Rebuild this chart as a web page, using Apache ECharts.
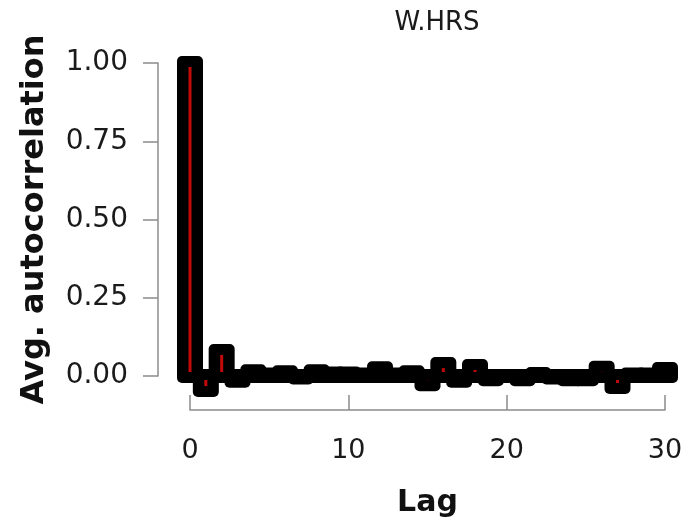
<!DOCTYPE html>
<html>
<head>
<meta charset="utf-8">
<title>W.HRS</title>
<script src="https://cdn.jsdelivr.net/npm/echarts@6/dist/echarts.min.js"></script>
<style>
  html, body { margin: 0; padding: 0; background: #fff; }
  #chart { width: 693px; height: 529px; }
</style>
</head>
<body>
<div id="chart"></div>
<script>
// lag values and average autocorrelation
const lags = [0, 1, 2, 3, 4, 5, 6, 7, 8, 9, 10, 11, 12, 13, 14, 15, 16, 17, 18, 19, 20, 21, 22, 23, 24, 25, 26, 27, 28, 29, 30]
const avgAcf = [1.0, -0.045, 0.08, -0.015, 0.015, 0.005, 0.012, -0.005, 0.015, 0.008, 0.008, 0.005, 0.025, 0.005, 0.012, -0.026, 0.038, -0.015, 0.032, -0.01, 0.0, -0.01, 0.006, -0.005, -0.01, -0.01, 0.026, -0.035, 0.005, 0.005, 0.022]
const xTicks = [0, 10, 20, 30]
const yTicks = [0, 0.25, 0.5, 0.75, 1]

const chartTitle = 'W.HRS'
const xName = 'Lag'
const yName = 'Avg. autocorrelation'

const seriesData = lags.map((lag, i) => [lag, avgAcf[i]])

const chart = echarts.init(document.getElementById('chart'))

const fontFamily = '"DejaVu Sans", sans-serif'
const axisGray = '#8c8c8c'

// thick black outline around each lag (like lwd in base R)
const renderOutline = (params, api) => {
  const p0 = api.coord([api.value(0), 0])
  const p1 = api.coord([api.value(0), api.value(1)])
  const top = Math.min(p0[1], p1[1])
  const h = Math.abs(p1[1] - p0[1])
  return {
    type: 'rect',
    shape: { x: p0[0] - 13, y: top - 7, width: 26, height: h + 14, r: 5 },
    style: { fill: '#000' }
  }
}

// thin red segment inside the outline
const renderInner = (params, api) => {
  const p0 = api.coord([api.value(0), 0])
  const p1 = api.coord([api.value(0), api.value(1)])
  const top = Math.min(p0[1], p1[1]) + 4
  const h = Math.abs(p1[1] - p0[1]) - 8
  if (h <= 0) return null
  return {
    type: 'rect',
    shape: { x: p0[0] - 1.5, y: top, width: 3, height: h },
    style: { fill: '#c20a0a' }
  }
}

const option = {
  animation: false,
  backgroundColor: '#fff',
  title: {
    text: chartTitle,
    left: 432,
    top: 5,
    textAlign: 'center',
    textStyle: {
      fontFamily: fontFamily,
      fontSize: 26,
      fontWeight: 'normal',
      color: '#1a1a1a'
    }
  },
  grid: {
    left: 190,
    right: 28,
    top: 63,
    bottom: 153,
    containLabel: false
  },
  xAxis: {
    type: 'value',
    min: xTicks[0],
    max: xTicks[xTicks.length - 1],
    interval: xTicks[1] - xTicks[0],
    offset: 34,
    name: xName,
    nameLocation: 'middle',
    nameGap: 78,
    nameTextStyle: {
      fontFamily: fontFamily,
      fontSize: 30,
      fontWeight: 'bold',
      color: '#111'
    },
    axisLine: { show: true, onZero: false, lineStyle: { color: axisGray, width: 1.5 } },
    axisTick: { show: true, inside: true, length: 15, lineStyle: { color: axisGray, width: 1.5 } },
    axisLabel: {
      margin: 27,
      fontFamily: fontFamily,
      fontSize: 27,
      color: '#1a1a1a'
    },
    splitLine: { show: false }
  },
  yAxis: {
    type: 'value',
    min: yTicks[0],
    max: yTicks[yTicks.length - 1],
    interval: yTicks[1] - yTicks[0],
    offset: 32,
    name: yName,
    nameLocation: 'middle',
    nameGap: 107,
    nameTextStyle: {
      fontFamily: fontFamily,
      fontSize: 32,
      fontWeight: 'bold',
      color: '#111'
    },
    axisLine: { show: true, onZero: false, lineStyle: { color: axisGray, width: 1.5 } },
    axisTick: { show: true, inside: false, length: 15, lineStyle: { color: axisGray, width: 1.5 } },
    axisLabel: {
      margin: 30,
      fontFamily: fontFamily,
      fontSize: 28,
      color: '#1a1a1a',
      formatter: (v) => v.toFixed(2)
    },
    splitLine: { show: false }
  },
  series: [
    {
      name: 'outline',
      type: 'custom',
      clip: false,
      renderItem: renderOutline,
      data: seriesData,
      z: 2
    },
    {
      name: 'acf',
      type: 'custom',
      clip: false,
      renderItem: renderInner,
      data: seriesData,
      z: 3
    }
  ]
}

chart.setOption(option)
</script>
</body>
</html>
